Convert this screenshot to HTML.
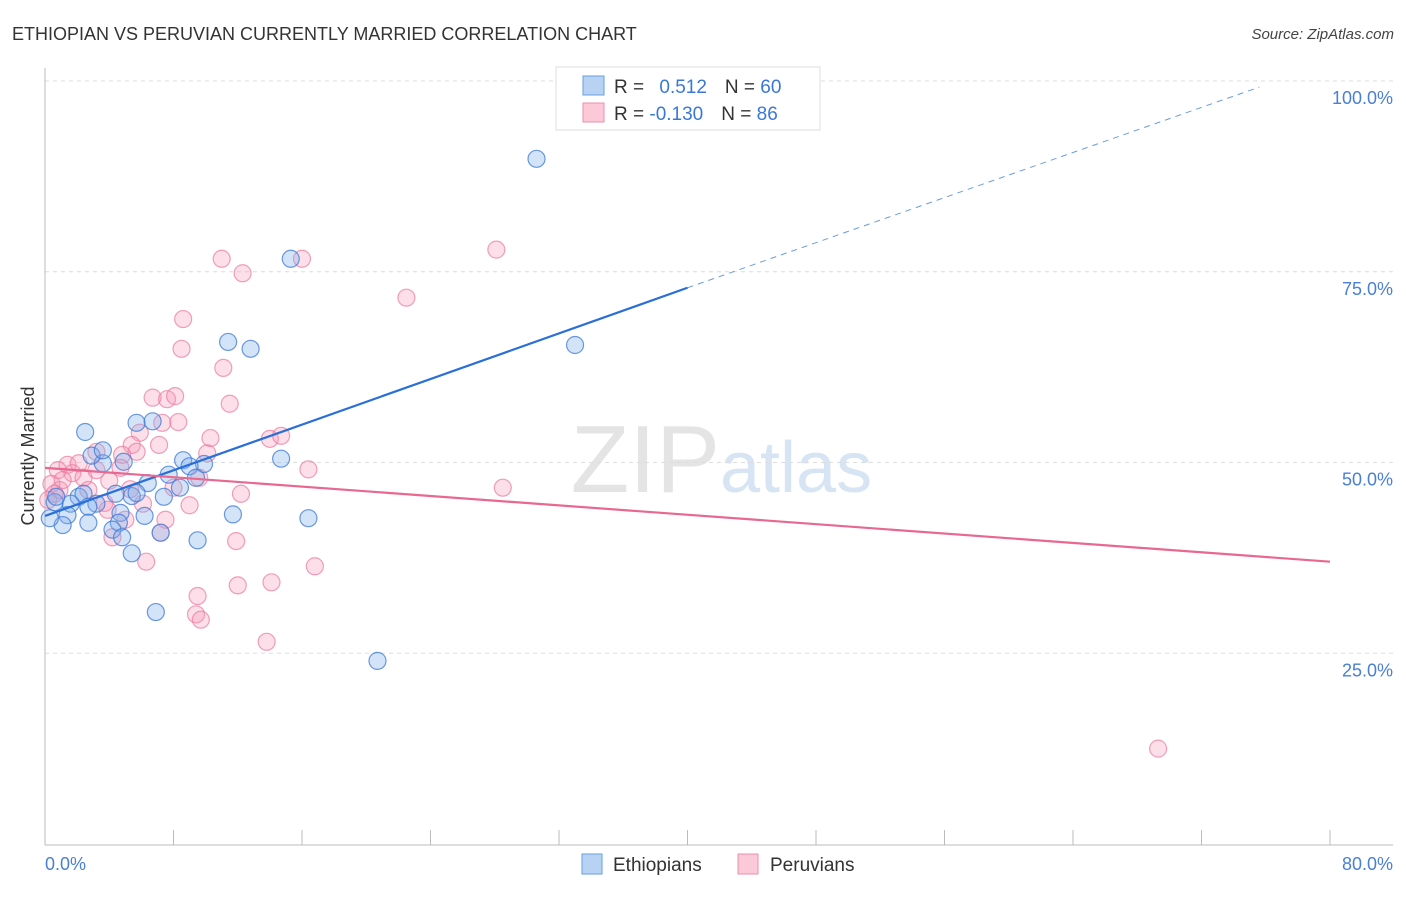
<!DOCTYPE html>
<html><head><meta charset="utf-8"><style>
body{margin:0;background:#fff;font-family:"Liberation Sans",sans-serif}
svg text{font-family:"Liberation Sans",sans-serif}
</style></head><body>
<svg width="1406" height="892" xmlns="http://www.w3.org/2000/svg">
<text x="12" y="40" font-size="18" fill="#333">ETHIOPIAN VS PERUVIAN CURRENTLY MARRIED CORRELATION CHART</text>
<text x="1394" y="39" font-size="15" fill="#444" font-style="italic" text-anchor="end">Source: ZipAtlas.com</text>
<text x="720" y="492" font-size="96" fill="#e4e4e4" font-family="Liberation Serif,serif" text-anchor="end">ZIP</text>
<text x="720" y="492" font-size="72" fill="#d6e4f4">atlas</text>
<g id="grid"></g>
<line x1="45" y1="68" x2="45" y2="845" stroke="#bbb"/>
<line x1="45" y1="845" x2="1393" y2="845" stroke="#bbb"/>
<g id="xticks"></g>
<g id="points"></g>
<g id="lines"></g>
<text transform="translate(34,456) rotate(-90)" font-size="18" fill="#333" text-anchor="middle">Currently Married</text>
<text x="45" y="870" font-size="18" fill="#4a7fd4">0.0%</text>
<text x="1393" y="870" font-size="18" fill="#4a7fd4" text-anchor="end">80.0%</text>
<g>
<rect x="556" y="67" width="264" height="63" fill="#fff" stroke="#ddd"/>
<rect x="583" y="76" width="21" height="19" fill="#b8d2f4" stroke="#6a9de0"/>
<rect x="583" y="103" width="21" height="19" fill="#fbc9d7" stroke="#ec8fac"/>
<text x="614" y="93" font-size="19" fill="#333">R = <tspan fill="#3a78d8" dx="10">0.512</tspan><tspan dx="18" fill="#333">N = </tspan><tspan fill="#3a78d8">60</tspan></text>
<text x="614" y="120" font-size="19" fill="#333">R = <tspan fill="#3a78d8">-0.130</tspan><tspan dx="18" fill="#333">N = </tspan><tspan fill="#3a78d8">86</tspan></text>
</g>
<g><rect x="582" y="854" width="20" height="20" fill="#b8d2f4" stroke="#6a9de0"/><text x="613" y="871" font-size="19" fill="#333">Ethiopians</text></g>
<g><rect x="738" y="854" width="20" height="20" fill="#fbc9d7" stroke="#ec8fac"/><text x="770" y="871" font-size="19" fill="#333">Peruvians</text></g>
</svg>
<script>
const yTicks=[25,50,75,100];
const xTickVals=[10,20,30,40,50,60,70,80,90,100];
const ethX=[30.6,15.3,11.4,12.8,33.0,2.5,5.7,6.7,14.7,8.6,9.9,9.0,7.7,9.4,4.9,3.6,2.9,3.6,6.4,8.4,7.4,5.4,5.7,4.4,2.1,2.4,3.2,2.7,1.6,1.4,1.1,2.7,0.3,0.6,0.7,4.7,6.2,4.6,4.2,4.8,5.4,7.2,9.5,11.7,16.4,6.9,20.7];
const ethY=[89.8,76.7,65.8,64.9,65.4,54.0,55.2,55.4,50.5,50.3,49.8,49.5,48.4,48.0,50.1,49.9,50.9,51.6,47.3,46.7,45.5,45.6,46.0,45.9,45.5,45.9,44.6,44.2,44.6,43.1,41.8,42.1,42.7,44.8,45.5,43.4,43.0,42.1,41.2,40.2,38.1,40.8,39.8,43.2,42.7,30.4,24.0];
const perX=[69.3,28.1,22.5,11.0,12.3,16.0,8.6,8.5,11.1,11.5,6.7,7.6,8.1,7.3,8.3,5.9,5.4,7.1,10.3,14.0,14.7,10.1,5.7,4.8,3.2,1.4,2.1,1.7,0.8,16.4,28.5,12.2,9.6,8.0,9.0,6.1,3.7,2.7,0.9,0.4,1.1,2.4,4.0,5.3,7.5,3.9,5.0,4.2,7.2,11.9,6.3,16.8,14.1,12.0,9.5,9.4,9.7,13.8,0.2,0.6,3.2,4.7];
const perY=[12.5,77.9,71.6,76.7,74.8,76.7,68.8,64.9,62.4,57.7,58.5,58.3,58.7,55.2,55.3,53.9,52.3,52.3,53.2,53.1,53.5,51.2,51.4,51.0,51.4,49.7,49.9,48.6,49.0,49.1,46.7,45.9,48.0,46.7,44.4,44.6,44.7,46.4,46.4,47.2,47.7,48.0,47.6,46.5,42.5,43.8,42.5,40.2,40.8,39.7,37.0,36.4,34.3,33.9,32.5,30.1,29.4,26.5,45.1,45.9,49.0,49.3];
const ethLine=[43.0,72.9]; // y at x=0 and x=40 (solid end)
const ethDashEnd=[75.6,99.2];
const perLine=[49.3,37.0]; // y at x=0 and x=80
const NS="http://www.w3.org/2000/svg";
const sx=v=>45+v/80*1285;
const sy=v=>844-v/100*763;
function mk(t,a,p){const e=document.createElementNS(NS,t);for(const k in a)e.setAttribute(k,a[k]);p.appendChild(e);return e;}
const grid=document.getElementById('grid');
for(const t of yTicks){
 const l=mk('line',{x1:45,x2:1393,y1:sy(t),y2:sy(t),stroke:'#ddd','stroke-dasharray':'4,4'},grid);
 
 
 const tx=mk('text',{x:1393,y:sy(t)+23,'font-size':18,fill:'#4a7fd4','text-anchor':'end'},grid);
 tx.textContent=t.toFixed(1)+'%';
 
 
}
const xt=document.getElementById('xticks');
for(const t of xTickVals){
 const x=45+t/100*1285;
 const l=mk('line',{x1:x,x2:x,y1:830,y2:845,stroke:'#bbb'},xt);
 
 
}
const pts=document.getElementById('points');
perX.forEach((v,i)=>{
 const c=mk('circle',{cx:sx(v),cy:sy(perY[i]),r:8.5,fill:'rgba(245,150,180,0.3)',stroke:'rgba(236,120,160,0.7)','stroke-width':1.2},pts);
 
 
});
ethX.forEach((v,i)=>{
 const c=mk('circle',{cx:sx(v),cy:sy(ethY[i]),r:8.5,fill:'rgba(130,175,235,0.35)',stroke:'rgba(60,120,215,0.75)','stroke-width':1.2},pts);
 
 
});
const ln=document.getElementById('lines');
let a=mk('line',{x1:sx(0),y1:sy(ethLine[0]),x2:sx(40),y2:sy(ethLine[1]),stroke:'#2a6fd8','stroke-width':2.2},ln);


a=mk('line',{x1:sx(40),y1:sy(ethLine[1]),x2:sx(ethDashEnd[0]),y2:sy(ethDashEnd[1]),stroke:'#6a9de0','stroke-width':1,'stroke-dasharray':'6,5'},ln);


a=mk('line',{x1:sx(0),y1:sy(perLine[0]),x2:sx(80),y2:sy(perLine[1]),stroke:'#e8688f','stroke-width':2.2},ln);


</script>
</body></html>
